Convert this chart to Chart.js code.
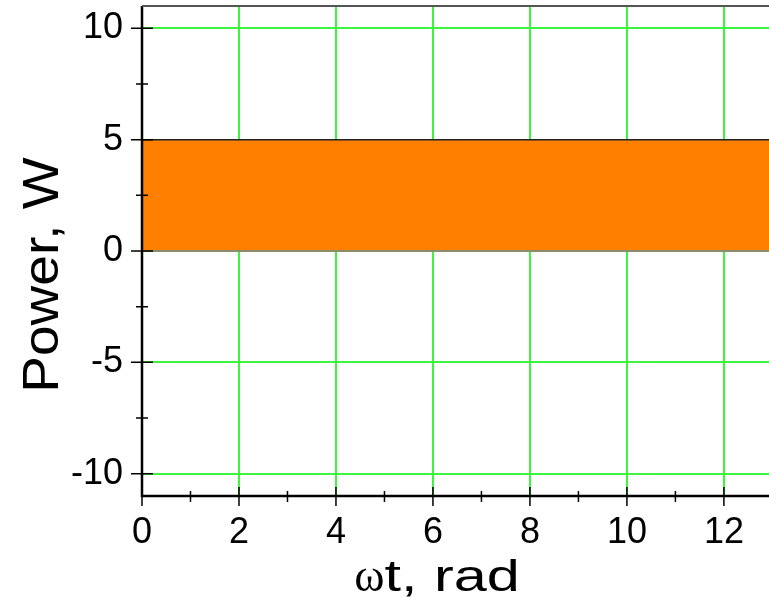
<!DOCTYPE html>
<html>
<head>
<meta charset="utf-8">
<script src="https://cdn.jsdelivr.net/npm/chart.js@4"></script>
<style>
  html, body { margin: 0; padding: 0; background: #fff; }
</style>
</head>
<body>
<canvas id="chart" width="769" height="605"></canvas>
<script>
// data
const wt = [0, 13];
const powerTop = [5, 5];
const powerBase = [0, 0];

const xMajor = [0, 2, 4, 6, 8, 10, 12];
const xMinor = [1, 3, 5, 7, 9, 11];
const yMajor = [-10, -5, 0, 5, 10];
const yMinor = [-7.5, -2.5, 2.5, 7.5];

const sans = '"Liberation Sans", Arial, sans-serif';
const serif = '"Liberation Serif", "Times New Roman", serif';

// ticks crossing the axes, the frame line and the titles
const axisMarks = {
  id: 'axisMarks',
  afterDatasetsDraw(chart) {
    const { ctx, chartArea: a, scales: { x, y } } = chart;
    ctx.save();
    ctx.strokeStyle = '#000';
    ctx.lineWidth = 1.5;
    ctx.beginPath();
    yMajor.forEach(v => {
      const p = y.getPixelForValue(v);
      ctx.moveTo(a.left - 11, p); ctx.lineTo(a.left + 11, p);
    });
    yMinor.forEach(v => {
      const p = y.getPixelForValue(v);
      ctx.moveTo(a.left - 6, p); ctx.lineTo(a.left + 6, p);
    });
    xMajor.forEach(v => {
      const p = x.getPixelForValue(v);
      ctx.moveTo(p, a.bottom - 9); ctx.lineTo(p, a.bottom + 10);
    });
    xMinor.forEach(v => {
      const p = x.getPixelForValue(v);
      ctx.moveTo(p, a.bottom - 5); ctx.lineTo(p, a.bottom + 6);
    });
    ctx.stroke();

    ctx.lineWidth = 2.5;
    ctx.beginPath();
    ctx.moveTo(a.left, a.top);
    ctx.lineTo(a.left, a.bottom);
    ctx.lineTo(a.right, a.bottom);
    ctx.stroke();

    ctx.strokeStyle = '#555';
    ctx.lineWidth = 2;
    ctx.beginPath();
    ctx.moveTo(a.left, a.top);
    ctx.lineTo(a.right, a.top);
    ctx.stroke();

    // y title, a bit stretched along its length like the original
    ctx.fillStyle = '#000';
    ctx.save();
    ctx.translate(58, (a.top + a.bottom) / 2 + 24);
    ctx.rotate(-Math.PI / 2);
    ctx.scale(1.1, 1);
    ctx.font = '50px ' + sans;
    ctx.textAlign = 'center';
    ctx.textBaseline = 'alphabetic';
    ctx.fillText('Power, W', 0, 0);
    ctx.restore();

    // x title: omega in serif, the rest in sans, stretched wide
    ctx.textBaseline = 'alphabetic';
    ctx.textAlign = 'left';
    const stretch = 1.35;
    ctx.font = '46px ' + serif;
    const w1 = ctx.measureText('ω').width;
    ctx.font = '44px ' + sans;
    const w2 = ctx.measureText('t, rad').width * stretch;
    const sx = x.getPixelForValue(6) - (w1 + w2) / 2 + 4;
    ctx.font = '46px ' + serif;
    ctx.fillText('ω', sx, 591);
    ctx.save();
    ctx.translate(sx + w1, 591);
    ctx.scale(stretch, 1);
    ctx.font = '44px ' + sans;
    ctx.fillText('t, rad', 0, 0);
    ctx.restore();
    ctx.restore();
  }
};

new Chart(document.getElementById('chart'), {
  type: 'line',
  data: {
    labels: wt,
    datasets: [
      {
        data: wt.map((t, i) => ({ x: t, y: powerBase[i] })),
        borderColor: '#8c8c6a',
        borderWidth: 2,
        pointRadius: 0,
        fill: false
      },
      {
        data: wt.map((t, i) => ({ x: t, y: powerTop[i] })),
        borderColor: '#222',
        borderWidth: 1.5,
        backgroundColor: '#ff8000',
        pointRadius: 0,
        fill: '-1'
      }
    ]
  },
  options: {
    responsive: false,
    animation: false,
    layout: { padding: { top: 6, right: 0, left: 0, bottom: 0 } },
    plugins: {
      legend: { display: false },
      tooltip: { enabled: false }
    },
    scales: {
      x: {
        type: 'linear',
        min: 0,
        max: 12.93,
        afterBuildTicks: s => { s.ticks = xMajor.map(v => ({ value: v })); },
        afterFit: s => { s.height = 109; s.paddingLeft = 0; s.paddingRight = 0; },
        grid: { color: '#3cf53c', lineWidth: 2, drawTicks: false },
        border: { display: false },
        ticks: {
          padding: 15,
          color: '#000',
          font: { family: sans, size: 36 },
          maxRotation: 0
        }
      },
      y: {
        min: -11,
        max: 11,
        afterBuildTicks: s => { s.ticks = yMajor.map(v => ({ value: v })); },
        afterFit: s => { s.width = 142; s.paddingTop = 0; s.paddingBottom = 0; },
        grid: { color: '#3cf53c', lineWidth: 2, drawTicks: false },
        border: { display: false },
        ticks: {
          padding: 19,
          color: '#000',
          font: { family: sans, size: 36 }
        }
      }
    }
  },
  plugins: [axisMarks]
});
</script>
</body>
</html>
